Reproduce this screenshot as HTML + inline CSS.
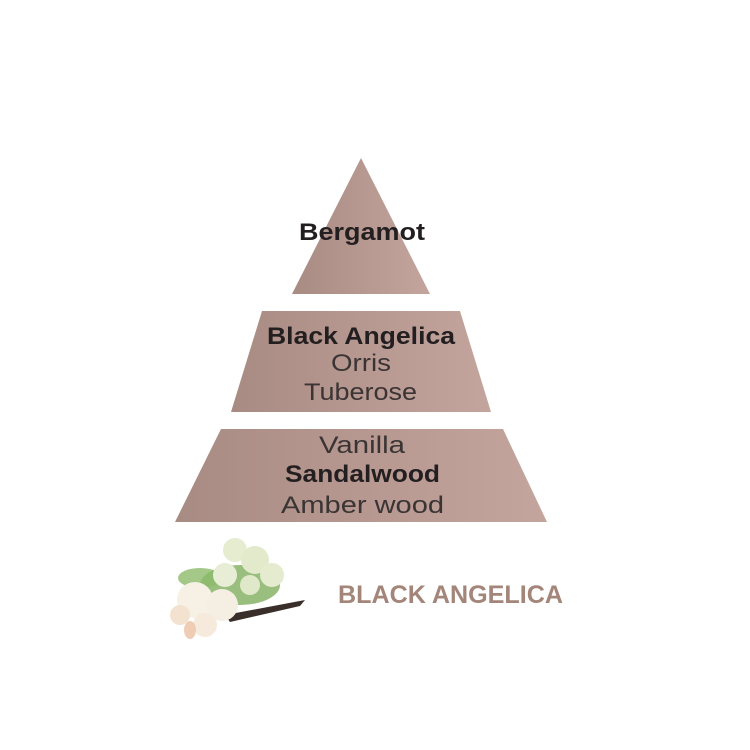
<!DOCTYPE html>
<html><head><meta charset="utf-8"><style>
html,body{margin:0;padding:0;background:#fff;}
svg{display:block}
</style></head><body>
<svg width="750" height="750" viewBox="0 0 750 750" xmlns="http://www.w3.org/2000/svg">
<defs>
<linearGradient id="g" x1="0" x2="1" y1="0" y2="0">
<stop offset="0" stop-color="#a88b82"/><stop offset="1" stop-color="#c4a59e"/>
</linearGradient>
</defs>
<polygon points="361,158 430,294 292,294" fill="url(#g)"/>
<polygon points="262,311 460,311 491,412 231,412" fill="url(#g)"/>
<polygon points="221,429 503,429 547,522 175,522" fill="url(#g)"/>
<g font-family="Liberation Sans, sans-serif" fill="#231f20" font-size="24" lengthAdjust="spacingAndGlyphs">
<text x="299" y="240" font-weight="bold" textLength="126" lengthAdjust="spacingAndGlyphs">Bergamot</text>
<text x="267" y="344" font-weight="bold" textLength="188" lengthAdjust="spacingAndGlyphs">Black Angelica</text>
<text x="331" y="371" fill="#3a3434" textLength="60" lengthAdjust="spacingAndGlyphs">Orris</text>
<text x="304" y="400" fill="#3a3434" textLength="113" lengthAdjust="spacingAndGlyphs">Tuberose</text>
<text x="319" y="453" fill="#3a3434" textLength="86" lengthAdjust="spacingAndGlyphs">Vanilla</text>
<text x="285" y="482" font-weight="bold" textLength="155" lengthAdjust="spacingAndGlyphs">Sandalwood</text>
<text x="281" y="513" fill="#3a3434" textLength="163" lengthAdjust="spacingAndGlyphs">Amber wood</text>
</g>
<text x="338" y="603" font-family="Liberation Sans, sans-serif" font-size="25" fill="#a3857a" font-weight="bold" textLength="225" lengthAdjust="spacingAndGlyphs">BLACK ANGELICA</text>
<g>
<ellipse cx="240" cy="585" rx="40" ry="20" fill="#7fae5e" opacity="0.8"/>
<ellipse cx="200" cy="578" rx="22" ry="10" fill="#8cba6a" opacity="0.8"/>
<path d="M225 615 L305 600 L300 606 L230 622 Z" fill="#3a2e2a"/>
<circle cx="235" cy="550" r="12" fill="#e6ecd0"/>
<circle cx="255" cy="560" r="14" fill="#e2eacb"/>
<circle cx="272" cy="575" r="12" fill="#e4ebcf"/>
<circle cx="225" cy="575" r="12" fill="#e8eed6"/>
<circle cx="250" cy="585" r="10" fill="#dfe8c8"/>
<circle cx="195" cy="600" r="18" fill="#f6f1e4"/>
<circle cx="222" cy="605" r="16" fill="#f4efe2"/>
<circle cx="180" cy="615" r="10" fill="#f3e2d0"/>
<circle cx="205" cy="625" r="12" fill="#f5eadc"/>
<ellipse cx="190" cy="630" rx="6" ry="9" fill="#efcdb4"/>
</g>
</svg>
</body></html>
